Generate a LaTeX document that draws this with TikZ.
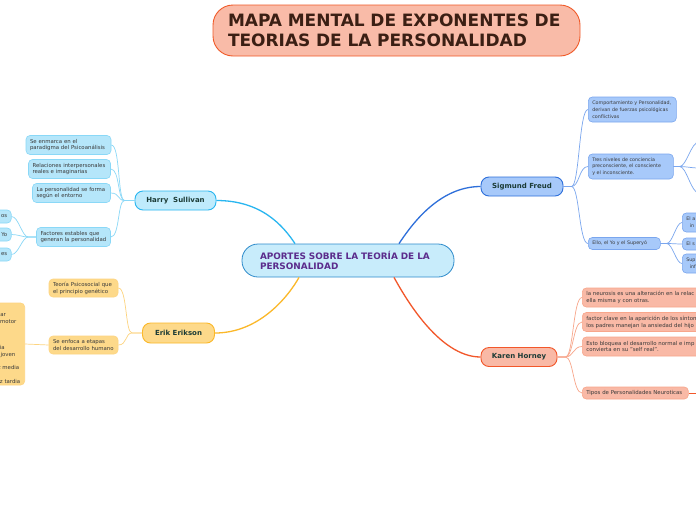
\documentclass[tikz,border=0pt]{standalone}
\usepackage{fontspec}
\setmainfont{DejaVu Sans}
\usetikzlibrary{calc}
\definecolor{titlefill}{HTML}{F9BBA8}
\definecolor{titledraw}{HTML}{F05A28}
\definecolor{titletext}{HTML}{3B1F14}
\definecolor{cfill}{HTML}{C8ECFB}
\definecolor{cdraw}{HTML}{2E8BCB}
\definecolor{ctext}{HTML}{5B2C8C}
\definecolor{nodetext}{HTML}{1B3B36}
\definecolor{subtext}{HTML}{3A3A3A}
\definecolor{sulfill}{HTML}{BFEBFC}
\definecolor{suldraw}{HTML}{29B6F0}
\definecolor{sulsub}{HTML}{B5E6FA}
\definecolor{sulline}{HTML}{8AD8F7}
\definecolor{erfill}{HTML}{FDD98A}
\definecolor{erdraw}{HTML}{FBB829}
\definecolor{erline}{HTML}{FDD480}
\definecolor{frfill}{HTML}{A7C9FA}
\definecolor{frdraw}{HTML}{2E6FDA}
\definecolor{frline}{HTML}{7AA6EE}
\definecolor{kafill}{HTML}{F9B9A6}
\definecolor{kadraw}{HTML}{F2572A}
\definecolor{kaline}{HTML}{F8A68B}
\hyphenpenalty=10000
\exhyphenpenalty=10000
\begin{document}
\begin{tikzpicture}[x=1pt,y=-1pt,
  titlebox/.style={draw=titledraw, fill=titlefill, line width=0.9pt, rounded corners=20pt,
    font=\fontsize{17}{20.5}\selectfont\bfseries, text=titletext, align=left, inner xsep=15pt, inner ysep=0pt},
  centerbox/.style={draw=cdraw, fill=cfill, line width=0.8pt, rounded corners=16pt,
    font=\fontsize{8.9}{10.5}\selectfont\bfseries, text=ctext, align=left, inner xsep=18pt, inner ysep=0pt},
  mainbox/.style={line width=0.9pt, rounded corners=8pt, font=\fontsize{7}{8}\selectfont\bfseries,
    text=nodetext, align=center, inner sep=0pt},
  subbox/.style={line width=0.6pt, rounded corners=4pt, font=\fontsize{5.4}{6.8}\selectfont,
    text=subtext, align=left, inner xsep=4pt, inner ysep=0pt},
  sulsubbox/.style={subbox, draw=sulline, fill=sulsub},
  ersubbox/.style={subbox, draw=erline, fill=erfill},
  frsubbox/.style={subbox, draw=frline, fill=frfill, font=\fontsize{4.8}{6.8}\selectfont},
  kasubbox/.style={subbox, draw=kaline, fill=kafill},
  mainline/.style={line width=1.3pt},
  subline/.style={line width=0.7pt},
  edgetext/.style={font=\fontsize{5.4}{6.8}\selectfont, text=subtext, inner sep=0pt}
]
\useasboundingbox (0,0) rectangle (696,520);
\clip (0,0) rectangle (696,520);
\fill[white] (0,0) rectangle (696,520);

% ---------- nodes ----------
\node[titlebox, text width=337pt, minimum height=51pt] (title) at (396.5,30.5)
  {MAPA MENTAL DE EXPONENTES DE\\TEORIAS DE LA PERSONALIDAD};
\node[centerbox, text width=176pt, minimum height=33pt] (center) at (348,260.5)
  {APORTES SOBRE LA TEORÍA DE LA\\PERSONALIDAD};

\node[mainbox, draw=suldraw, fill=sulfill, minimum width=81pt, minimum height=19pt] (sul) at (175.5,200.5) {Harry\ \ Sullivan};
\node[mainbox, draw=erdraw, fill=erfill, minimum width=72pt, minimum height=20pt] (er) at (178.5,333) {Erik Erikson};
\node[mainbox, draw=frdraw, fill=frfill, minimum width=82pt, minimum height=19pt] (fr) at (522,186.5) {Sigmund Freud};
\node[mainbox, draw=kadraw, fill=kafill, minimum width=76pt, minimum height=19pt] (ka) at (519,357) {Karen Horney};

% Sullivan children
\node[sulsubbox, text width=77pt, minimum height=19pt] (s1) at (68.5,145) {Se enmarca en el\\paradigma del Psicoanálisis};
\node[sulsubbox, text width=74pt, minimum height=19pt] (s2) at (69.5,169) {Relaciones interpersonales\\reales e imaginarias};
\node[sulsubbox, text width=70pt, minimum height=19pt] (s3) at (71.5,193) {La personalidad se forma\\según el entorno};
\node[sulsubbox, text width=66pt, minimum height=19pt] (s4) at (73.5,237) {Factores estables que\\generan la personalidad};
\node[sulsubbox, align=right, text width=32pt, minimum height=13pt, anchor=east] (f1) at (11.5,216.5) {os};
\node[sulsubbox, align=right, text width=32pt, minimum height=13pt, anchor=east] (f2) at (11.5,234.5) {Yo};
\node[sulsubbox, align=right, text width=32pt, minimum height=13pt, anchor=east] (f3) at (11.5,254.5) {es};

% Erikson children
\node[ersubbox, text width=61pt, minimum height=18pt] (e1) at (83.5,288) {Teoría Psicosocial que\\el principio genético};
\node[ersubbox, text width=61pt, minimum height=18pt] (e2) at (83.5,345) {Se enfoca a etapas\\del desarrollo humano};
\node[ersubbox, minimum width=60pt, minimum height=82pt, anchor=east] (eb) at (25,344) {};
\node[edgetext, anchor=east] (eb1) at (6,315) {ar};
\node[edgetext, anchor=east] (eb2) at (16.5,322) {motor};
\node[edgetext, anchor=east] (eb3) at (5,347) {ia};
\node[edgetext, anchor=east] (eb4) at (15.5,355) {joven};
\node[edgetext, anchor=east] (eb5) at (19.5,367) {z media};
\node[edgetext, anchor=east] (eb6) at (20.5,381) {z tardia};

% Freud children
\node[frsubbox, text width=80pt, minimum height=25pt, anchor=west] (fr1) at (588,109.5)
  {Comportamiento y Personalidad,\\derivan de fuerzas psicológicas\\conflictivas};
\node[frsubbox, text width=77pt, minimum height=25pt, anchor=west] (fr2) at (588,166.5)
  {Tres niveles de conciencia\\preconsciente, el consciente\\y el inconsciente.};
\node[frsubbox, text width=64pt, minimum height=12pt, anchor=west] (fr3) at (588,243.5)
  {Ello, el Yo y el Superyó};
\node[frsubbox, text width=40pt, minimum height=19pt, anchor=west] (fs1) at (682,222.5) {El a\\\hspace*{3.5pt}in};
\node[frsubbox, text width=40pt, minimum height=12pt, anchor=west] (fs2) at (682,244) {El s};
\node[frsubbox, text width=40pt, minimum height=19pt, anchor=west] (fs3) at (682,263.5) {Sup\\\hspace*{3.5pt}inf};
\coordinate (t1) at (699,142);
\coordinate (t2) at (699,168);
\coordinate (t3) at (699,193);

% Horney children
\node[kasubbox, text width=140pt, minimum height=19pt, anchor=west] (k1) at (582,297.5)
  {la neurosis es una alteración en la relac\\ella misma y con otras.};
\node[kasubbox, text width=140pt, minimum height=19pt, anchor=west] (k2) at (582,322)
  {factor clave en la aparición de los síntom\\los padres manejan la ansiedad del hijo};
\node[kasubbox, text width=140pt, minimum height=19pt, anchor=west] (k3) at (582,346.5)
  {Esto bloquea el desarrollo normal e imp\\convierta en su "self real".};
\node[kasubbox, text width=98pt, minimum height=12pt, anchor=west] (k4) at (582,393)
  {Tipos de Personalidades Neuroticas};
\coordinate (k4r) at (699,393);

% ---------- main connectors ----------
\draw[mainline, draw=suldraw] (sul.east) .. controls +(45,0) and +(-12,-18) .. ([xshift=-53pt]center.north);
\draw[mainline, draw=frdraw] (fr.west) .. controls +(-42,0) and +(12,-18) .. ([xshift=51pt]center.north);
\draw[mainline, draw=erdraw] (er.east) .. controls +(45,0) and +(-10,18) .. ([xshift=-49pt]center.south);
\draw[mainline, draw=kadraw] (ka.west) .. controls +(-42,0) and +(10,18) .. ([xshift=46pt]center.south);

% ---------- sub connectors ----------
\foreach \c in {s1,s2,s3,s4}
  \draw[subline, draw=sulline] (sul.west) -- ++(-10,0) .. controls +(-7,0) and +(9,0) .. (\c.east);
\foreach \c in {f1,f2,f3}
  \draw[subline, draw=sulline] (s4.west) -- ++(-8,0) .. controls +(-6,0) and +(7,0) .. (\c.east);
\foreach \c in {e1,e2}
  \draw[subline, draw=erline] (er.west) -- ++(-10,0) .. controls +(-7,0) and +(9,0) .. (\c.east);
\draw[subline, draw=erline] (e2.west) -- (eb.east);
\foreach \c in {fr1,fr2,fr3}
  \draw[subline, draw=frline] (fr.east) -- ++(8,0) .. controls +(8,0) and +(-9,0) .. (\c.west);
\foreach \c in {t1,t2,t3}
  \draw[subline, draw=frline] (fr2.east) -- ++(6,0) .. controls +(7,0) and +(-8,0) .. (\c);
\foreach \c in {fs1,fs2,fs3}
  \draw[subline, draw=frline] (fr3.east) -- ++(6,0) .. controls +(6,0) and +(-6,0) .. (\c.west);
\foreach \c in {k1,k2,k3,k4}
  \draw[subline, draw=kaline] (ka.east) -- ++(8,0) .. controls +(8,0) and +(-9,0) .. (\c.west);
\draw[subline, draw=kadraw] (k4.east) -- (k4r);
\end{tikzpicture}
\end{document}
